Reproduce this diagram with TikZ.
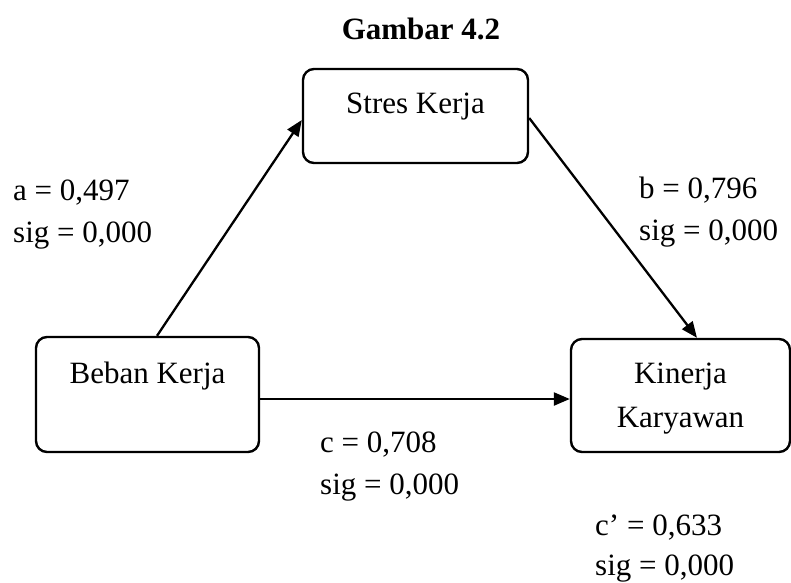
\documentclass[tikz,border=0pt]{standalone}
\usepackage{fontspec}
\setmainfont{Liberation Serif}
\usetikzlibrary{arrows.meta,calc}
\begin{document}
\begin{tikzpicture}[x=1pt,y=-1pt,
  box/.style={draw,line width=2.4pt,rounded corners=11pt,inner sep=0pt},
  txt/.style={font=\fontsize{31}{42}\selectfont,anchor=base,inner sep=0pt},
  lbl/.style={font=\fontsize{31}{42}\selectfont,anchor=base west,inner sep=0pt},
  conn/.style={line width=2.3pt,-{Triangle[length=16pt,width=13pt]}}]
\useasboundingbox (0,0) rectangle (791,582);
% title
\node[txt,font=\fontsize{31}{42}\selectfont\bfseries] (title) at (421,39) {Gambar 4.2};
% boxes
\node[box,minimum width=225pt,minimum height=94pt] (stres) at (415.5,116) {};
\node[box,minimum width=223pt,minimum height=115pt] (beban) at (147.5,394.5) {};
\node[box,minimum width=219pt,minimum height=113pt] (kinerja) at (680.5,395.5) {};
% box texts
\node[txt] (tstres) at (415.5,113) {Stres Kerja};
\node[txt] (tbeban) at (147.5,383) {Beban Kerja};
\node[txt] (tkin1) at (680.5,383) {Kinerja};
\node[txt] (tkin2) at (680.5,427) {Karyawan};
% connectors
\draw[conn] ([xshift=9.5pt]beban.north) -- ([yshift=-4pt]stres.west);
\draw[conn] ([yshift=-2pt]stres.east) -- ([xshift=16.5pt]kinerja.north);
\draw[conn] ([yshift=-4.5pt]beban.east) -- ([yshift=-4.5pt]beban.east -| kinerja.west);
% labels
\node[lbl] (la1) at (13,200) {a = 0,497};
\node[lbl] (la2) at (13,242) {sig = 0,000};
\node[lbl] (lb1) at (639,198) {b = 0,796};
\node[lbl] (lb2) at (639,240) {sig = 0,000};
\node[lbl] (lc1) at (320,452) {c = 0,708};
\node[lbl] (lc2) at (320,494) {sig = 0,000};
\node[lbl] (ld1) at (595,535) {c’ = 0,633};
\node[lbl] (ld2) at (595,575) {sig = 0,000};
\end{tikzpicture}
\end{document}
